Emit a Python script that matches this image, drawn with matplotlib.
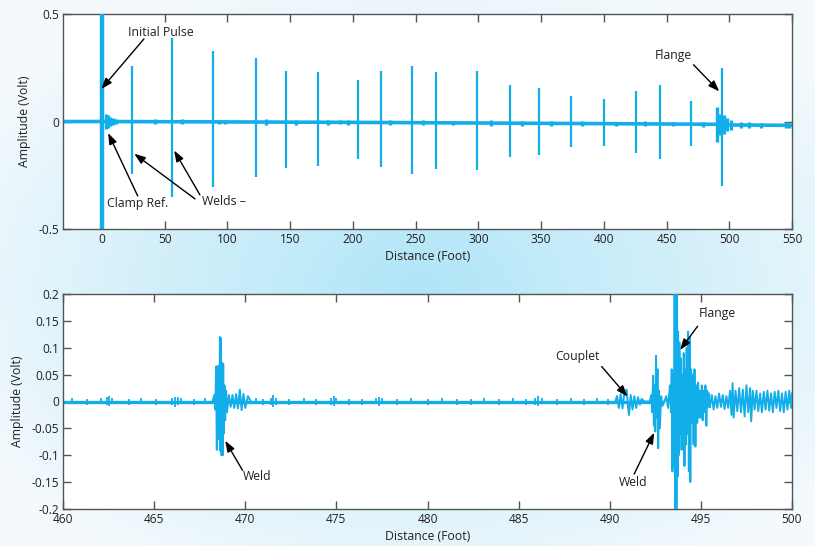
import numpy as np
import matplotlib
matplotlib.use("Agg")
import matplotlib.pyplot as plt
from matplotlib.ticker import FuncFormatter

plt.rcParams['font.family'] = ['Open Sans', 'DejaVu Sans']
plt.rcParams['axes.unicode_minus'] = False

# ---- top panel: full-length scan ----
top_xlim = (-31, 550)
top_xticks = list(range(0, 551, 50))
top_yticks = [-0.5, 0, 0.5]

# initial pulse (clipped by the axes)
pulse_x = [0.0]
pulse_pos = [0.62]
pulse_neg = [-0.62]

# weld echoes and flange
echo_x = [24.2, 55.8, 88.8, 122.8, 146.7, 172.2, 204.1, 222.7, 247.4, 266.1,
          299.0, 325.6, 348.5, 373.5, 399.8, 425.8, 444.4, 469.4, 494.1]
echo_pos = [0.26, 0.39, 0.33, 0.295, 0.233, 0.228, 0.191, 0.233, 0.26, 0.228,
            0.233, 0.17, 0.156, 0.12, 0.104, 0.144, 0.172, 0.095, 0.247]
echo_neg = [-0.244, -0.352, -0.303, -0.259, -0.214, -0.205, -0.175, -0.21, -0.244, -0.22,
            -0.225, -0.166, -0.155, -0.119, -0.116, -0.147, -0.175, -0.113, -0.298]

# slowly drifting baseline
base_x = [-31, 0, 100, 200, 300, 400, 490, 500, 550]
base_y = [0.0, 0.0, -0.002, -0.004, -0.007, -0.010, -0.013, -0.016, -0.018]

# small blobs along the baseline (position, half height)
blip_x = [3.5, 5.0, 6.5, 8.5, 11.0, 42.0, 64.0, 93.0, 98.0, 131.0, 155.0, 180.0,
          190.0, 196.0, 230.0, 256.0, 280.0, 310.0, 335.0, 358.0, 383.0, 410.0,
          433.0, 455.0, 479.0, 490.5, 492.5, 496.0, 498.5, 501.0, 509.0, 516.0,
          525.0, 545.0, 548.0]
blip_h = [0.035, 0.03, 0.02, 0.015, 0.01, 0.012, 0.012, 0.01, 0.01, 0.012, 0.012, 0.012,
          0.01, 0.012, 0.01, 0.012, 0.01, 0.012, 0.012, 0.01, 0.012, 0.01,
          0.012, 0.01, 0.012, 0.08, 0.05, 0.045, 0.03, 0.022, 0.014, 0.014,
          0.012, 0.014, 0.012]

# ---- bottom panel: zoom on 460-500 ft ----
bot_xlim = (460, 500)
bot_xticks = list(range(460, 501, 5))
bot_yticks = [-0.2, -0.15, -0.1, -0.05, 0, 0.05, 0.1, 0.15, 0.2]

# quiet trace: flat band with small noise spikes (position, top, bottom)
noise_x = [460.5, 461.3, 462.1, 462.4, 462.5, 462.7, 463.6, 464.3, 465.1, 466.0, 466.15,
           466.3, 466.5, 467.2, 467.8, 470.6, 471.0, 471.4, 471.5, 471.7, 472.4, 473.2,
           473.9, 474.7, 474.85, 475.0, 475.7, 476.4, 477.2, 477.35, 477.5, 478.3, 479.1,
           480.0, 480.8, 481.6, 482.4, 483.1, 483.9, 484.7, 485.4, 485.9, 486.05, 486.3,
           487.1, 487.9, 488.6, 489.3, 489.9]
noise_hi = [0.006, 0.005, 0.006, 0.008, 0.011, 0.006, 0.005, 0.006, 0.005, 0.007, 0.009,
            0.008, 0.006, 0.005, 0.006, 0.006, 0.005, 0.007, 0.012, 0.007, 0.005, 0.006,
            0.005, 0.007, 0.01, 0.006, 0.005, 0.005, 0.006, 0.009, 0.006, 0.005, 0.006,
            0.005, 0.006, 0.005, 0.005, 0.006, 0.005, 0.006, 0.005, 0.007, 0.01, 0.006,
            0.005, 0.006, 0.005, 0.006, 0.005]
noise_lo = [-0.005, -0.006, -0.005, -0.007, -0.009, -0.005, -0.006, -0.005, -0.006, -0.007,
            -0.01, -0.007, -0.005, -0.006, -0.005, -0.005, -0.006, -0.006, -0.01, -0.006,
            -0.006, -0.005, -0.006, -0.006, -0.009, -0.005, -0.006, -0.006, -0.005, -0.008,
            -0.005, -0.006, -0.005, -0.006, -0.005, -0.006, -0.006, -0.005, -0.006, -0.005,
            -0.006, -0.007, -0.009, -0.005, -0.006, -0.005, -0.006, -0.005, -0.006]

weld1_x = [468.20, 468.30, 468.36, 468.40, 468.44, 468.48, 468.52, 468.55, 468.58, 468.61,
           468.64, 468.67, 468.70, 468.73, 468.76, 468.79, 468.82, 468.86, 468.90, 468.95,
           469.00, 469.10, 469.20, 469.30, 469.40, 469.50, 469.60, 469.70, 469.80, 469.90,
           470.00, 470.15, 470.30]
weld1_y = [0.0, 0.012, -0.015, 0.065, -0.09, 0.066, -0.07, 0.065, -0.06, 0.12,
           -0.092, 0.118, -0.1, 0.072, -0.1, 0.07, -0.06, 0.03, -0.035, 0.02,
           -0.02, 0.012, -0.01, 0.012, -0.012, 0.014, -0.013, 0.022, -0.016, 0.014,
           -0.012, 0.01, 0.0]

couplet_x = [490.30, 490.40, 490.50, 490.60, 490.70, 490.80, 490.93, 491.00, 491.06, 491.15,
             491.25, 491.35, 491.45, 491.55, 491.65, 491.75, 491.90, 492.20]
couplet_y = [0.0, 0.01, -0.012, 0.014, -0.013, 0.015, 0.022, -0.01, -0.025, 0.012,
             -0.015, 0.01, -0.012, 0.008, -0.006, 0.005, 0.0, 0.0]

weld2_x = [492.20, 492.28, 492.33, 492.38, 492.42, 492.46, 492.50, 492.54, 492.58, 492.62,
           492.66, 492.70, 492.75, 492.82, 492.90, 493.00]
weld2_y = [0.0, 0.012, -0.02, 0.048, -0.045, 0.03, -0.056, 0.085, -0.03, 0.06,
           -0.087, 0.02, -0.05, 0.01, -0.008, 0.0]

flange_x = [493.00, 493.10, 493.20, 493.30, 493.36, 493.40, 493.44, 493.48, 493.52, 493.56,
            493.60, 493.63, 493.66, 493.69, 493.72, 493.75, 493.78, 493.82, 493.86, 493.90,
            493.94, 493.98, 494.02, 494.06, 494.10, 494.14, 494.18, 494.22, 494.26, 494.30,
            494.34, 494.38, 494.42, 494.46, 494.50, 494.55, 494.60, 494.65, 494.70, 494.75,
            494.80, 494.85, 494.90, 494.95, 495.00, 495.05, 495.10, 495.15, 495.20, 495.25,
            495.30, 495.35, 495.40, 495.45, 495.50]
flange_y = [0.0, 0.01, -0.012, 0.03, -0.02, 0.06, -0.13, 0.05, -0.12, 0.25,
            -0.25, 0.25, -0.25, 0.25, -0.14, 0.13, -0.1, 0.11, -0.06, 0.08,
            -0.09, 0.05, -0.05, 0.09, -0.12, 0.06, -0.08, 0.1, -0.06, 0.13,
            -0.13, 0.12, -0.15, 0.06, -0.04, 0.05, -0.08, 0.06, -0.084, 0.03,
            -0.04, 0.035, -0.03, 0.02, -0.03, 0.03, -0.035, 0.02, -0.02, 0.03,
            -0.045, 0.02, -0.01, 0.015, -0.01]

tail_x = [495.50, 495.60, 495.70, 495.80, 495.90, 496.00, 496.10, 496.20, 496.30, 496.40,
          496.50, 496.60, 496.68, 496.74, 496.80, 496.90, 497.00, 497.10, 497.20, 497.30,
          497.40, 497.50, 497.60, 497.70, 497.76, 497.85, 497.95, 498.05, 498.15, 498.25,
          498.35, 498.45, 498.55, 498.65, 498.75, 498.85, 498.95, 499.05, 499.15, 499.25,
          499.35, 499.45, 499.55, 499.65, 499.75, 499.85, 499.95, 500.00]
tail_y = [-0.01, 0.012, -0.015, 0.01, -0.012, 0.015, -0.01, 0.012, -0.014, 0.01,
          -0.012, 0.02, -0.025, 0.034, -0.03, 0.02, -0.018, 0.025, -0.02, 0.022,
          -0.028, 0.03, -0.02, 0.025, -0.037, 0.02, -0.015, 0.02, -0.018, 0.015,
          -0.02, 0.018, -0.015, 0.02, -0.017, 0.015, -0.02, 0.018, -0.012, 0.02,
          -0.018, 0.015, -0.02, 0.018, -0.015, 0.02, -0.012, 0.015]

sig_color = '#12aeea'
ink = '#231f20'
fs_tick = 8.6
fs_text = 8.8

fig = plt.figure(figsize=(8.15, 5.46), dpi=100)

# soft blue glow behind the panels
bg = fig.add_axes([0, 0, 1, 1], zorder=-5)
gx, gy = np.meshgrid(np.linspace(0, 815, 300), np.linspace(0, 546, 200))
r = np.sqrt(((gx - 420) / 520) ** 2 + ((gy - 285) / 330) ** 2)
t = np.clip(r, 0, 1)[..., None]
c_in = np.array([0.69, 0.90, 0.97])
c_out = np.array([0.96, 0.98, 0.99])
bg.imshow(c_in * (1 - t) + c_out * t, extent=[0, 815, 546, 0], aspect='auto')
bg.axis('off')

ax1 = fig.add_axes([63 / 815, 1 - 229 / 546, 729 / 815, 215 / 546])
ax2 = fig.add_axes([63 / 815, 1 - 509 / 546, 729 / 815, 215 / 546])

arrow_kw = dict(arrowstyle='-|>,head_length=0.55,head_width=0.2', color='black',
                lw=1.0, mutation_scale=12, shrinkA=0, shrinkB=0)


def arrow(ax, tail, head):
    ax.annotate('', xy=head, xytext=tail, arrowprops=arrow_kw, zorder=6)


def label(ax, x, y, s):
    ax.text(x, y, s, fontsize=fs_text, color=ink, va='center', ha='left', zorder=6)


# top panel
ax1.plot(base_x, base_y, color=sig_color, lw=2.6, solid_capstyle='butt', zorder=2)
ax1.vlines(pulse_x, pulse_neg, pulse_pos, color=sig_color, lw=3.2, zorder=3)
ax1.vlines(echo_x, echo_neg, echo_pos, color=sig_color, lw=1.6, zorder=3)
bb = np.interp(blip_x, base_x, base_y)
ax1.vlines(blip_x, bb - np.array(blip_h), bb + np.array(blip_h), color=sig_color, lw=2.4, zorder=2)
ax1.set_xlim(*top_xlim)
ax1.set_ylim(-0.5, 0.5)
ax1.set_xticks(top_xticks)
ax1.set_yticks(top_yticks)

label(ax1, 21, 0.415, 'Initial Pulse')
arrow(ax1, (33.5, 0.384), (-0.5, 0.151))
label(ax1, 4.2, -0.382, 'Clamp Ref.')
arrow(ax1, (28.5, -0.346), (5.0, -0.054))
label(ax1, 79.5, -0.374, 'Welds \u2013')
arrow(ax1, (74.2, -0.36), (25.8, -0.15))
arrow(ax1, (78.1, -0.341), (57.6, -0.135))
label(ax1, 441, 0.309, 'Flange')
arrow(ax1, (471.5, 0.264), (492, 0.14))

# bottom panel
ax2.hlines(0, bot_xlim[0], 493, color=sig_color, lw=2.4, zorder=2)
ax2.vlines(noise_x, noise_lo, noise_hi, color=sig_color, lw=1.3, zorder=2)
for xs, ys in [(weld1_x, weld1_y), (couplet_x, couplet_y), (weld2_x, weld2_y),
               (flange_x, flange_y), (tail_x, tail_y)]:
    ax2.plot(xs, ys, color=sig_color, lw=1.4, zorder=3)
ax2.set_xlim(*bot_xlim)
ax2.set_ylim(-0.2, 0.2)
ax2.set_xticks(bot_xticks)
ax2.set_yticks(bot_yticks)

label(ax2, 469.85, -0.14, 'Weld')
arrow(ax2, (469.85, -0.128), (468.9, -0.073))
label(ax2, 487.03, 0.084, 'Couplet')
arrow(ax2, (489.56, 0.065), (490.97, 0.0093))
label(ax2, 490.51, -0.15, 'Weld')
arrow(ax2, (491.34, -0.135), (492.44, -0.058))
label(ax2, 494.9, 0.163, 'Flange')
arrow(ax2, (494.82, 0.14), (493.86, 0.096))

fmt = FuncFormatter(lambda v, p: f'{v:g}')
for ax in (ax1, ax2):
    ax.set_facecolor('white')
    ax.yaxis.set_major_formatter(fmt)
    ax.tick_params(direction='in', top=True, right=True, length=6, width=1,
                   color='#555555', labelcolor=ink, labelsize=fs_tick, pad=3)
    for s in ax.spines.values():
        s.set_color('#555555')
        s.set_linewidth(1.0)
    ax.set_xlabel('Distance (Foot)', fontsize=fs_text, color=ink, labelpad=3)
    ax.set_ylabel('Amplitude (Volt)', fontsize=fs_text, color=ink, labelpad=5)

fig.savefig('out.png', dpi=100)
